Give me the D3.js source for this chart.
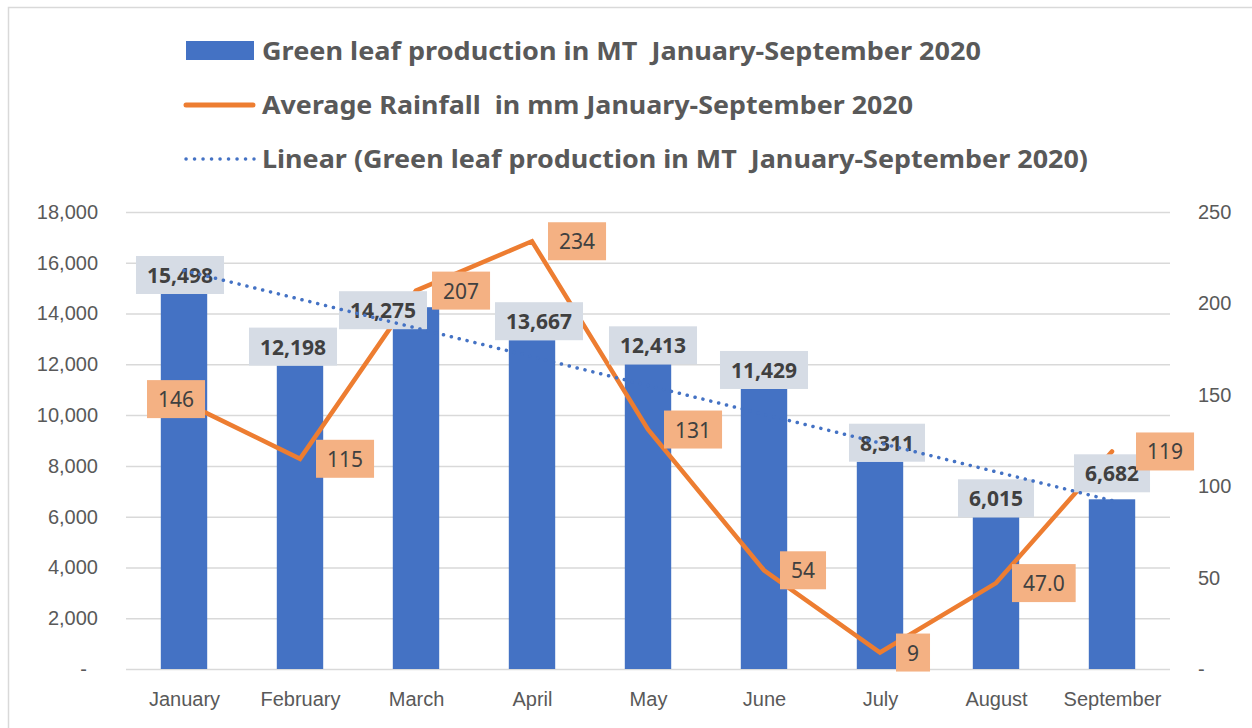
<!DOCTYPE html>
<html>
<head>
<meta charset="utf-8">
<script src="https://cdn.jsdelivr.net/npm/d3@7"></script>
<style>
  body { margin: 0; background: #fff; }
  svg { display: block; font-family: "Noto Sans", sans-serif; }
</style>
</head>
<body>
<svg id="chart" width="1252" height="728"></svg>
<script>
// ---- data ----
const months = ["January", "February", "March", "April", "May", "June", "July", "August", "September"];

// bar heights as drawn (they don't quite agree with the typed labels)
const barValues = [14770, 11950, 14250, 12950, 12000, 11030, 8165, 5975, 6684];

// green leaf production labels (MT), also what the trendline is fitted on
const leafLabels = [15498, 12198, 14275, 13667, 12413, 11429, 8311, 6015, 6682];

// average rainfall in mm
const rainfall = [146, 115, 207, 234, 131, 54, 9, 47, 119];
const rainLabels = ["146", "115", "207", "234", "131", "54", "9", "47.0", "119"];

const leftTicks = [0, 2000, 4000, 6000, 8000, 10000, 12000, 14000, 16000, 18000];
const rightTicks = [0, 50, 100, 150, 200, 250];

const legendNames = [
    "Green leaf production in MT  January-September 2020",
    "Average Rainfall  in mm January-September 2020",
    "Linear (Green leaf production in MT  January-September 2020)"
];

// manual nudges of some data labels, as in the original
const barLabelNudge = [[-4, 0], [-7, 0], [-33, 22], [7, 0], [5, 0], [0, 0], [7, 0], [0, 0], [0, -7]];
const rainLabelNudge = [[-53, -3], [0, 0], [0, 0], [0, 0], [0, 0], [0, 0], [0, 0], [0, 0], [8, 0]];

// ---- layout ----
const blue = "#4472C4", orange = "#ED7D31", grid = "#D9D9D9", ink = "#595959";
const plot = { left: 126, right: 1170, top: 212, bottom: 669 };

const svg = d3.select("#chart");

// chart frame (runs off the right and bottom of the picture)
svg.append("rect")
    .attr("x", 8.5).attr("y", 7.5)
    .attr("width", 1270).attr("height", 740)
    .attr("fill", "none")
    .attr("stroke", grid).attr("stroke-width", 1.5);

const x = d3.scalePoint()
    .domain(months)
    .range([plot.left, plot.right])
    .padding(0.5);

const yLeft = d3.scaleLinear().domain([0, 18000]).range([plot.bottom, plot.top]);
const yRight = d3.scaleLinear().domain([0, 250]).range([plot.bottom, plot.top]);

const barWidth = x.step() * 0.4;
const fmt = d3.format(",");

// left axis with gridlines
const leftAxis = svg.append("g")
    .attr("transform", `translate(${plot.left},0)`)
    .call(d3.axisLeft(yLeft)
        .tickValues(leftTicks)
        .tickSize(-(plot.right - plot.left))
        .tickPadding(28)
        .tickFormat(d => d === 0 ? "-" : fmt(d)));
leftAxis.select(".domain").remove();
leftAxis.selectAll("line").attr("stroke", grid).attr("stroke-width", 1.5);
leftAxis.selectAll("text")
    .attr("fill", ink).style("font-size", "20px")
    .filter(d => d === 0).attr("x", -39);

// right axis
const rightAxis = svg.append("g")
    .attr("transform", `translate(${plot.right},0)`)
    .call(d3.axisRight(yRight)
        .tickValues(rightTicks)
        .tickSize(0)
        .tickPadding(28)
        .tickFormat(d => d === 0 ? "-" : d));
rightAxis.select(".domain").remove();
rightAxis.selectAll("text").attr("fill", ink).style("font-size", "20px");

// category axis
const bottomAxis = svg.append("g")
    .attr("transform", `translate(0,${plot.bottom})`)
    .call(d3.axisBottom(x).tickSize(0).tickPadding(23));
bottomAxis.select(".domain").remove();
bottomAxis.selectAll("text").attr("fill", ink).style("font-size", "20px");

// bars
svg.append("g").selectAll("rect")
    .data(months)
    .join("rect")
    .attr("x", (d) => x(d) - barWidth / 2)
    .attr("y", (d, i) => yLeft(barValues[i]))
    .attr("width", barWidth)
    .attr("height", (d, i) => plot.bottom - yLeft(barValues[i]))
    .attr("fill", blue);

// rainfall line
const rainLine = d3.line()
    .x((d, i) => x(months[i]))
    .y(d => yRight(d));

svg.append("path")
    .datum(rainfall)
    .attr("d", rainLine)
    .attr("fill", "none")
    .attr("stroke", orange)
    .attr("stroke-width", 4.5)
    .attr("stroke-linecap", "round")
    .attr("stroke-linejoin", "miter");

// bar data labels
const barLab = svg.append("g").selectAll("g")
    .data(months)
    .join("g")
    .attr("transform", (d, i) => {
        let cx = x(d) + barLabelNudge[i][0];
        let bottom = yLeft(barValues[i]) + barLabelNudge[i][1];
        return `translate(${cx},${bottom - 19})`;
    });
barLab.append("text")
    .attr("text-anchor", "middle")
    .attr("dominant-baseline", "central")
    .attr("fill", "#404040")
    .style("font-size", "21px")
    .style("font-weight", "bold")
    .text((d, i) => fmt(leafLabels[i]));
barLab.each(function() {
    let g = d3.select(this);
    let w = g.select("text").node().getComputedTextLength() + 22;
    g.insert("rect", "text")
        .attr("x", -w / 2).attr("y", -19)
        .attr("width", w).attr("height", 38)
        .attr("fill", "#D6DCE5");
});

// rainfall data labels
const rainLab = svg.append("g").selectAll("g")
    .data(months)
    .join("g")
    .attr("transform", (d, i) => {
        let left = x(d) + 16 + rainLabelNudge[i][0];
        let cy = yRight(rainfall[i]) + rainLabelNudge[i][1];
        return `translate(${left},${cy})`;
    });
rainLab.append("text")
    .attr("dominant-baseline", "central")
    .attr("fill", "#404040")
    .style("font-size", "21px")
    .text((d, i) => rainLabels[i]);
rainLab.each(function() {
    let g = d3.select(this);
    let t = g.select("text");
    let tw = t.node().getComputedTextLength();
    t.attr("x", 11);
    g.insert("rect", "text")
        .attr("x", 0).attr("y", -19)
        .attr("width", tw + 22).attr("height", 38)
        .attr("fill", "#F4B183");
});

// linear trendline fitted on the production labels (Excel style, x = 1..n)
const n = leafLabels.length;
const xs = d3.range(1, n + 1);
const mx = d3.mean(xs), my = d3.mean(leafLabels);
const slope = d3.sum(xs, (v, i) => (v - mx) * (leafLabels[i] - my)) / d3.sum(xs, v => (v - mx) ** 2);
const icept = my - slope * mx;
const trend = [1, n].map(k => ({ m: months[k - 1], v: icept + slope * k }));

svg.append("path")
    .datum(trend)
    .attr("d", d3.line().x(d => x(d.m)).y(d => yLeft(d.v)))
    .attr("fill", "none")
    .attr("stroke", blue)
    .attr("stroke-width", 3.5)
    .attr("stroke-linecap", "round")
    .attr("stroke-dasharray", "0.1 8");

// legend
const legendY = [51, 105, 159];
const legendWidths = [719, 651, 826];
const legend = svg.append("g");

legend.append("rect")
    .attr("x", 186).attr("y", 41)
    .attr("width", 68).attr("height", 19)
    .attr("fill", blue);
legend.append("line")
    .attr("x1", 186).attr("x2", 253)
    .attr("y1", legendY[1]).attr("y2", legendY[1])
    .attr("stroke", orange).attr("stroke-width", 5)
    .attr("stroke-linecap", "round");
legend.append("line")
    .attr("x1", 186).attr("x2", 254)
    .attr("y1", legendY[2]).attr("y2", legendY[2])
    .attr("stroke", blue).attr("stroke-width", 3.5)
    .attr("stroke-linecap", "round")
    .attr("stroke-dasharray", "0.1 8.4");

legend.selectAll("text")
    .data(legendNames)
    .join("text")
    .attr("x", 262)
    .attr("y", (d, i) => legendY[i] + 9)
    .attr("textLength", (d, i) => legendWidths[i])
    .attr("lengthAdjust", "spacingAndGlyphs")
    .attr("fill", ink)
    .style("font-size", "25px")
    .style("font-weight", "bold")
    .style("white-space", "pre")
    .text(d => d);
</script>
</body>
</html>
